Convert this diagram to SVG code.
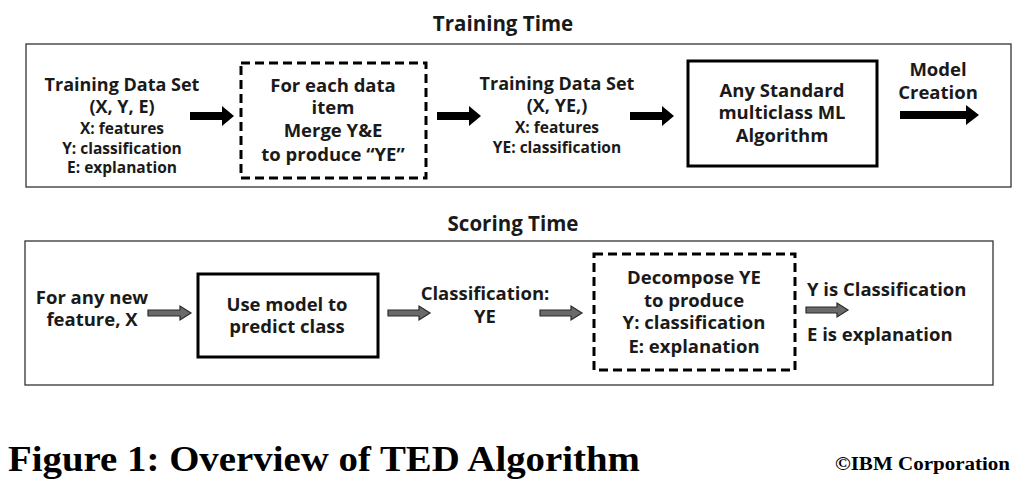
<svg xmlns="http://www.w3.org/2000/svg" width="1034" height="490" viewBox="0 0 1034 490">
<style>
.t{font-family:"Open Sans","Liberation Sans",sans-serif;font-weight:bold;fill:#1a1a1a;text-anchor:middle}
.l{font-size:18.5px}
.m{font-size:18px}
.s{font-size:15.5px}
.h{font-size:20.5px}
.outer{fill:none;stroke:#333;stroke-width:1.3}
.solid{fill:#fff;stroke:#000;stroke-width:3}
.dash{fill:#fff;stroke:#000;stroke-width:3;stroke-dasharray:9 5}
.ab{fill:#000}
.ag{fill:#6a6a6a;stroke:#2a2a2a;stroke-width:1.2}
.cap{font-family:"Liberation Serif",serif;font-weight:bold;fill:#000}
</style>
<text class="t h" x="503" y="31">Training Time</text>
<rect class="outer" x="26" y="44" width="985" height="143"/>
<text class="t h" x="513" y="231">Scoring Time</text>
<rect class="outer" x="25" y="241" width="968" height="144"/>

<g id="n-train-data">
<text class="t m" x="122" y="91">Training Data Set</text>
<text class="t m" x="122" y="113">(X, Y, E)</text>
<text class="t s" x="122" y="134">X: features</text>
<text class="t s" x="122" y="154">Y: classification</text>
<text class="t s" x="122" y="173">E: explanation</text>
</g>
<g id="n-merge">
<rect class="dash" x="241" y="63" width="185" height="115"/>
<text class="t l" x="333" y="92">For each data</text>
<text class="t l" x="333" y="114">item</text>
<text class="t l" x="333" y="137">Merge Y&amp;E</text>
<text class="t l" x="333" y="161">to produce “YE”</text>
</g>
<g id="n-train-data2">
<text class="t m" x="557" y="90">Training Data Set</text>
<text class="t m" x="557" y="112">(X, YE,)</text>
<text class="t s" x="557" y="133">X: features</text>
<text class="t s" x="557" y="153">YE: classification</text>
</g>
<g id="n-algo">
<rect class="solid" x="688" y="61" width="189" height="105"/>
<text class="t l" x="782" y="97">Any Standard</text>
<text class="t l" x="782" y="119">multiclass ML</text>
<text class="t l" x="782" y="142">Algorithm</text>
</g>
<g id="n-model-creation">
<text class="t l" x="938" y="76">Model</text>
<text class="t l" x="938" y="99">Creation</text>
</g>

<g id="n-new-feature">
<text class="t l" x="92" y="304">For any new</text>
<text class="t l" x="92" y="326">feature, X</text>
</g>
<g id="n-use-model">
<rect class="solid" x="198" y="274" width="180" height="83"/>
<text class="t l" x="287" y="311">Use model to</text>
<text class="t l" x="287" y="333">predict class</text>
</g>
<g id="n-classification">
<text class="t l" x="485" y="300">Classification:</text>
<text class="t l" x="485" y="323">YE</text>
</g>
<g id="n-decompose">
<rect class="dash" x="594" y="254" width="201" height="116"/>
<text class="t l" x="694" y="284">Decompose YE</text>
<text class="t l" x="694" y="307">to produce</text>
<text class="t l" x="694" y="329">Y: classification</text>
<text class="t l" x="694" y="353">E: explanation</text>
</g>
<g id="n-result">
<text class="t l" x="807" y="296" style="text-anchor:start">Y is Classification</text>
<text class="t l" x="807" y="341" style="text-anchor:start">E is explanation</text>
</g>

<g id="connectors">
<polygon class="ab" points="190,112 222,112 222,106 234,116 222,126 222,120 190,120"/>
<polygon class="ab" points="437,112 469,112 469,106 481,116 469,126 469,120 437,120"/>
<polygon class="ab" points="630,112 662,112 662,106 674,116 662,126 662,120 630,120"/>
<polygon class="ab" points="900,111 966,111 966,105 979,115 966,125 966,119 900,119"/>
<polygon class="ag" points="148,310 180,310 180,306 191,313 180,320 180,316 148,316"/>
<polygon class="ag" points="388,310 419,310 419,306 430,313 419,320 419,316 388,316"/>
<polygon class="ag" points="540,310 571,310 571,306 582,313 571,320 571,316 540,316"/>
<polygon class="ag" points="806,307 837,307 837,303 848,310 837,317 837,313 806,313"/>
</g>

<text class="cap" x="8" y="471" font-size="36" textLength="632" lengthAdjust="spacingAndGlyphs">Figure 1: Overview of TED Algorithm</text>
<text class="cap" x="835" y="470" font-size="18" textLength="175" lengthAdjust="spacingAndGlyphs">©IBM Corporation</text>
</svg>
